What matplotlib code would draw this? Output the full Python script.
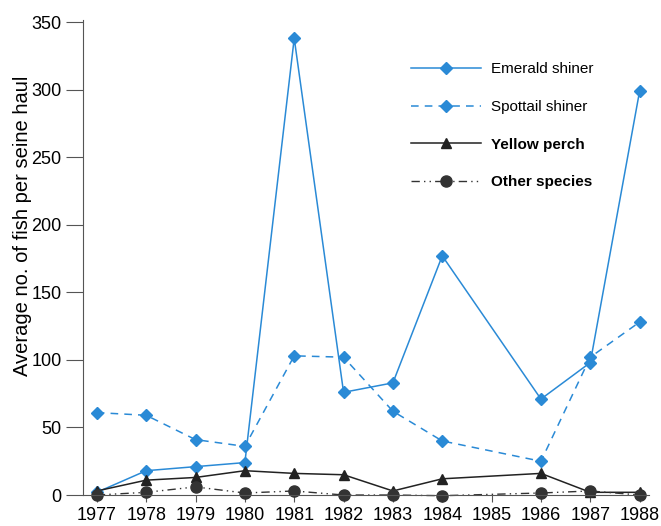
import matplotlib.pyplot as plt
import numpy as np

plt.rcParams['font.family'] = ['Liberation Sans', 'DejaVu Sans']

# survey years (no sampling in 1985)
years = [1977, 1978, 1979, 1980, 1981, 1982, 1983, 1984, 1986, 1987, 1988]
emerald = [2, 18, 21, 24, 338, 76, 83, 177, 71, 98, 299]
spottail = [61, 59, 41, 36, 103, 102, 62, 40, 25, 102, 128]
perch = [3, 11, 13, 18, 16, 15, 3, 12, 16, 2, 2]
other = [0, 2, 6, 1.5, 3, 0, 0, -0.5, 1.5, 3, 0]
tick_years = list(range(1977, 1989))

blue = '#2a8ad6'

fig = plt.figure(figsize=(6.61, 5.26), dpi=100)
ax = fig.add_axes([0.1256, 0.0589, 0.857, 0.903])

ax.plot(years, emerald, color=blue, lw=1.1, marker='D', ms=6,
        label='Emerald shiner', clip_on=False)
ax.plot(years, spottail, color=blue, lw=1.1, ls=(0, (5, 4)), marker='D', ms=6,
        label='Spottail shiner', clip_on=False)
ax.plot(years, perch, color='#222222', lw=1.1, marker='^', ms=7,
        label='Yellow perch', clip_on=False)
ax.plot(years, other, color='#333333', lw=1.0, ls=(0, (6, 3, 1, 3, 1, 3)),
        marker='o', ms=8, label='Other species', clip_on=False)

ax.set_xlim(1976.72, 1988.2)
ax.set_ylim(0, 351.5)
ax.set_xticks(tick_years)
ax.set_yticks(np.arange(0, 351, 50))
ax.tick_params(axis='both', labelsize=13, color='#555555', length=5, width=0.8)
ax.tick_params(axis='y', length=12)
ax.set_ylabel('Average no. of fish per seine haul', fontsize=14.5)
ax.yaxis.set_label_coords(-0.09, 0.567)

for s in ['top', 'right']:
    ax.spines[s].set_visible(False)
for s in ['left', 'bottom']:
    ax.spines[s].set_color('#555555')
    ax.spines[s].set_linewidth(0.8)

leg = ax.legend(loc='upper left', bbox_to_anchor=(0.555, 0.94), frameon=False,
                fontsize=11, handlelength=4.6, labelspacing=1.55, handletextpad=0.6)
for t in leg.get_texts()[2:]:
    t.set_fontweight('bold')

fig.savefig('out.png', dpi=100)
